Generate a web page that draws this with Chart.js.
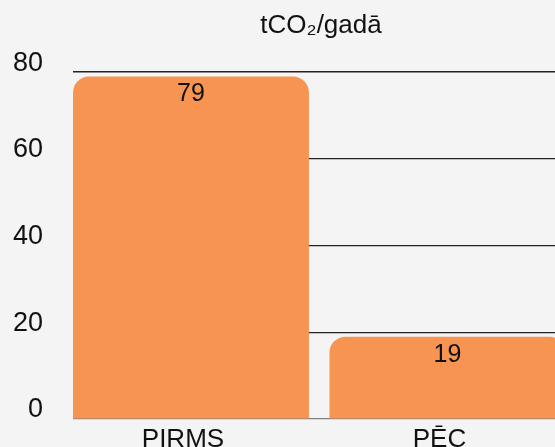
<!DOCTYPE html>
<html>
<head>
<meta charset="utf-8">
<script src="https://cdn.jsdelivr.net/npm/chart.js@4"></script>
<style>
  html, body { margin: 0; padding: 0; background: #f4f4f4; overflow: hidden; }
  #wrap { width: 570px; height: 447px; }
</style>
</head>
<body>
<div id="wrap"><canvas id="chart" width="570" height="447"></canvas></div>
<script>
const categories = ['PIRMS', 'PĒC'];
const values = [79, 19];
const yTicks = [0, 20, 40, 60, 80];
const titleText = 'tCO₂/gadā';

const barColor = '#f79452';
const textColor = '#111111';
const fontFamily = '"Liberation Sans", Arial, sans-serif';

// draws value labels just inside the top of each bar
const valueLabels = {
    id: 'valueLabels',
    afterDatasetsDraw(chart) {
        const ctx = chart.ctx;
        const meta = chart.getDatasetMeta(0);
        ctx.save();
        ctx.font = '25px ' + fontFamily;
        ctx.fillStyle = textColor;
        ctx.textAlign = 'center';
        ctx.textBaseline = 'middle';
        meta.data.forEach((bar, i) => {
            ctx.fillText(String(values[i]), bar.x, bar.y + 18);
        });
        ctx.restore();
    }
};

new Chart(document.getElementById('chart'), {
    type: 'bar',
    data: {
        datasets: [{
            data: values.map((v, i) => ({ x: i, y: v })),
            backgroundColor: barColor,
            borderRadius: 16,
            borderSkipped: 'start',
            barPercentage: 0.92,
            categoryPercentage: 1
        }]
    },
    options: {
        responsive: false,
        animation: false,
        layout: { padding: { left: 0, right: 1, top: 0, bottom: 0 } },
        plugins: {
            legend: { display: false },
            tooltip: { enabled: false },
            title: {
                display: true,
                text: titleText,
                fullSize: false,
                color: textColor,
                font: { family: fontFamily, size: 26, weight: 'normal' },
                padding: { top: 10, bottom: 31 }
            }
        },
        scales: {
            x: {
                type: 'linear',
                offset: false,
                min: -0.46,
                max: 1.474,
                afterBuildTicks(scale) { scale.ticks = categories.map((c, i) => ({ value: i })); },
                grid: { display: false, offset: false },
                border: { display: false },
                ticks: {
                    color: textColor,
                    font: { family: fontFamily, size: 26 },
                    padding: -3,
                    labelOffset: -8,
                    maxRotation: 0,
                    callback: v => categories[v]
                },
                afterFit(scale) { scale.height = 28; scale.paddingLeft = 0; scale.paddingRight = 0; }
            },
            y: {
                min: 0,
                max: 80,
                afterBuildTicks(scale) { scale.ticks = yTicks.map(v => ({ value: v })); },
                grid: {
                    drawTicks: false,
                    color: ctx => ctx.tick && ctx.tick.value === 0 ? '#808080' : '#222222',
                    lineWidth: ctx => ctx.tick && ctx.tick.value === 80 ? 1.6 : 1.2
                },
                border: { display: false },
                ticks: {
                    color: textColor,
                    font: { family: fontFamily, size: 27 },
                    padding: 30,
                    labelOffset: -9
                },
                afterFit(scale) { scale.width = 73; scale.paddingTop = 0; scale.paddingBottom = 0; }
            }
        }
    },
    plugins: [valueLabels]
});
</script>
</body>
</html>
